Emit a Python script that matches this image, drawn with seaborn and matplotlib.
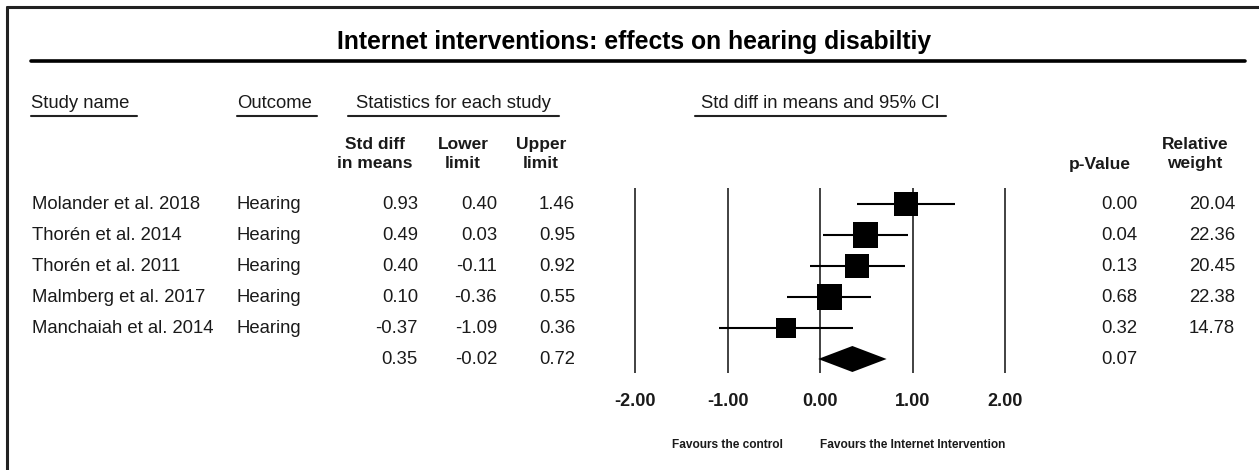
import numpy as np
import pandas as pd
import matplotlib
matplotlib.use("Agg")
import matplotlib.pyplot as plt
import seaborn as sns
from matplotlib.transforms import blended_transform_factory
from matplotlib.lines import Line2D

# data
studies = ["Molander et al. 2018", "Thorén et al. 2014", "Thorén et al. 2011",
           "Malmberg et al. 2017", "Manchaiah et al. 2014"]
outcomes = ["Hearing", "Hearing", "Hearing", "Hearing", "Hearing"]
effect = [0.93, 0.49, 0.40, 0.10, -0.37]
lower = [0.40, 0.03, -0.11, -0.36, -1.09]
upper = [1.46, 0.95, 0.92, 0.55, 0.36]
p_values = [0.00, 0.04, 0.13, 0.68, 0.32]
weights = [20.04, 22.36, 20.45, 22.38, 14.78]

summary_effect = 0.35
summary_lower = -0.02
summary_upper = 0.72
summary_p = 0.07

ticks = [-2.0, -1.0, 0.0, 1.0, 2.0]

df = pd.DataFrame({"study": studies, "effect": effect, "lower": lower,
                   "upper": upper, "weight": weights,
                   "row": np.arange(len(studies))})

sns.set_style("white")
plt.rcParams["font.family"] = ["Liberation Sans", "DejaVu Sans"]

W, H = 1259, 470
fig = plt.figure(figsize=(W / 100, H / 100), dpi=100)
ax = fig.add_axes([0, 0, 1, 1])

# pixel layout of the plot area: 0 at x=820, 92.5 px per unit, rows 31 px apart from y=204
x0, unit = 820, 92.5
y0, step = 204, 31
ax.set_xlim((0 - x0) / unit, (W - x0) / unit)
ax.set_ylim((H - y0) / step, (0 - y0) / step)
ax.axis("off")

def fx(x):
    return x / W

def fy(y):
    return 1 - y / H

row_tr = blended_transform_factory(fig.transFigure, ax.transData)
tick_tr = blended_transform_factory(ax.transData, fig.transFigure)
txt_col = "#1a1a1a"
body = 13.3

# reference lines
n = len(studies)
ax.vlines(ticks, (188 - y0) / step, (373 - y0) / step, color="#333333", lw=1.3, zorder=1)

# confidence intervals + squares
ax.hlines(df["row"], df["lower"], df["upper"], color="black", lw=1.5, zorder=2)
sns.scatterplot(data=df, x="effect", y="row", size="weight", sizes=(215, 325),
                size_norm=(14.78, 22.38), marker="s", color="black",
                linewidth=0, legend=False, ax=ax, zorder=3)
ax.set_xlim((0 - x0) / unit, (W - x0) / unit)
ax.set_ylim((H - y0) / step, (0 - y0) / step)

# summary diamond
half = 13 / step
ax.fill([summary_lower, summary_effect, summary_upper, summary_effect],
        [n, n - half, n, n + half], color="black", lw=0, zorder=3)

# tick labels and favours text
for t in ticks:
    ax.text(t, fy(402), f"{t:.2f}", transform=tick_tr, ha="center", va="center",
            fontsize=13, fontweight="bold", color=txt_col)
ax.text(-1, fy(445), "Favours the control", transform=tick_tr, ha="center",
        va="center", fontsize=8.6, fontweight="bold", color=txt_col)
ax.text(1, fy(445), "Favours the Internet Intervention", transform=tick_tr,
        ha="center", va="center", fontsize=8.6, fontweight="bold", color=txt_col)

# title and rules
fig.text(fx(634), fy(42), "Internet interventions: effects on hearing disabiltiy",
         ha="center", va="center", fontsize=17.8, fontweight="bold", color="black")
fig.add_artist(Line2D([fx(31), fx(1245)], [fy(61), fy(61)], color="black", lw=2.6))
fig.add_artist(Line2D([fx(7), fx(W)], [fy(7), fy(7)], color="#222222", lw=2.2))
fig.add_artist(Line2D([fx(7), fx(7)], [fy(7), fy(H)], color="#222222", lw=2.2))

# group headers with underlines
fig.text(fx(31), fy(103), "Study name", ha="left", va="center", fontsize=body, color=txt_col)
fig.text(fx(237), fy(103), "Outcome", ha="left", va="center", fontsize=body, color=txt_col)
fig.text(fx(453), fy(103), "Statistics for each study", ha="center", va="center",
         fontsize=body, color=txt_col)
fig.text(fx(820), fy(103), "Std diff in means and 95% CI", ha="center", va="center",
         fontsize=body, color=txt_col)
for a, b in [(31, 137), (237, 317), (348, 559), (695, 946)]:
    fig.add_artist(Line2D([fx(a), fx(b)], [fy(116), fy(116)], color="#222222", lw=1.5))

# column headers
for cx, lab in [(375, "Std diff\nin means"), (463, "Lower\nlimit"),
                (541, "Upper\nlimit"), (1195, "Relative\nweight")]:
    fig.text(fx(cx), fy(154), lab, ha="center", va="center", fontsize=12.5,
             fontweight="bold", color=txt_col, linespacing=1.35)
fig.text(fx(1100), fy(165), "p-Value", ha="center", va="center", fontsize=12.5,
         fontweight="bold", color=txt_col)

# table rows
for i in range(n):
    ax.text(fx(32), i, studies[i], transform=row_tr, ha="left", va="center",
            fontsize=body, color=txt_col)
    ax.text(fx(237), i, outcomes[i], transform=row_tr, ha="left", va="center",
            fontsize=body, color=txt_col)
    ax.text(fx(1235), i, f"{weights[i]:.2f}", transform=row_tr, ha="right",
            va="center", fontsize=body, color=txt_col)
col_vals = [(418, effect + [summary_effect]), (497, lower + [summary_lower]),
            (575, upper + [summary_upper]), (1137, p_values + [summary_p])]
for cx, vals in col_vals:
    for i, v in enumerate(vals):
        ax.text(fx(cx), i, f"{v:.2f}", transform=row_tr, ha="right", va="center",
                fontsize=body, color=txt_col)

fig.savefig("out.png", dpi=100, facecolor="white")
